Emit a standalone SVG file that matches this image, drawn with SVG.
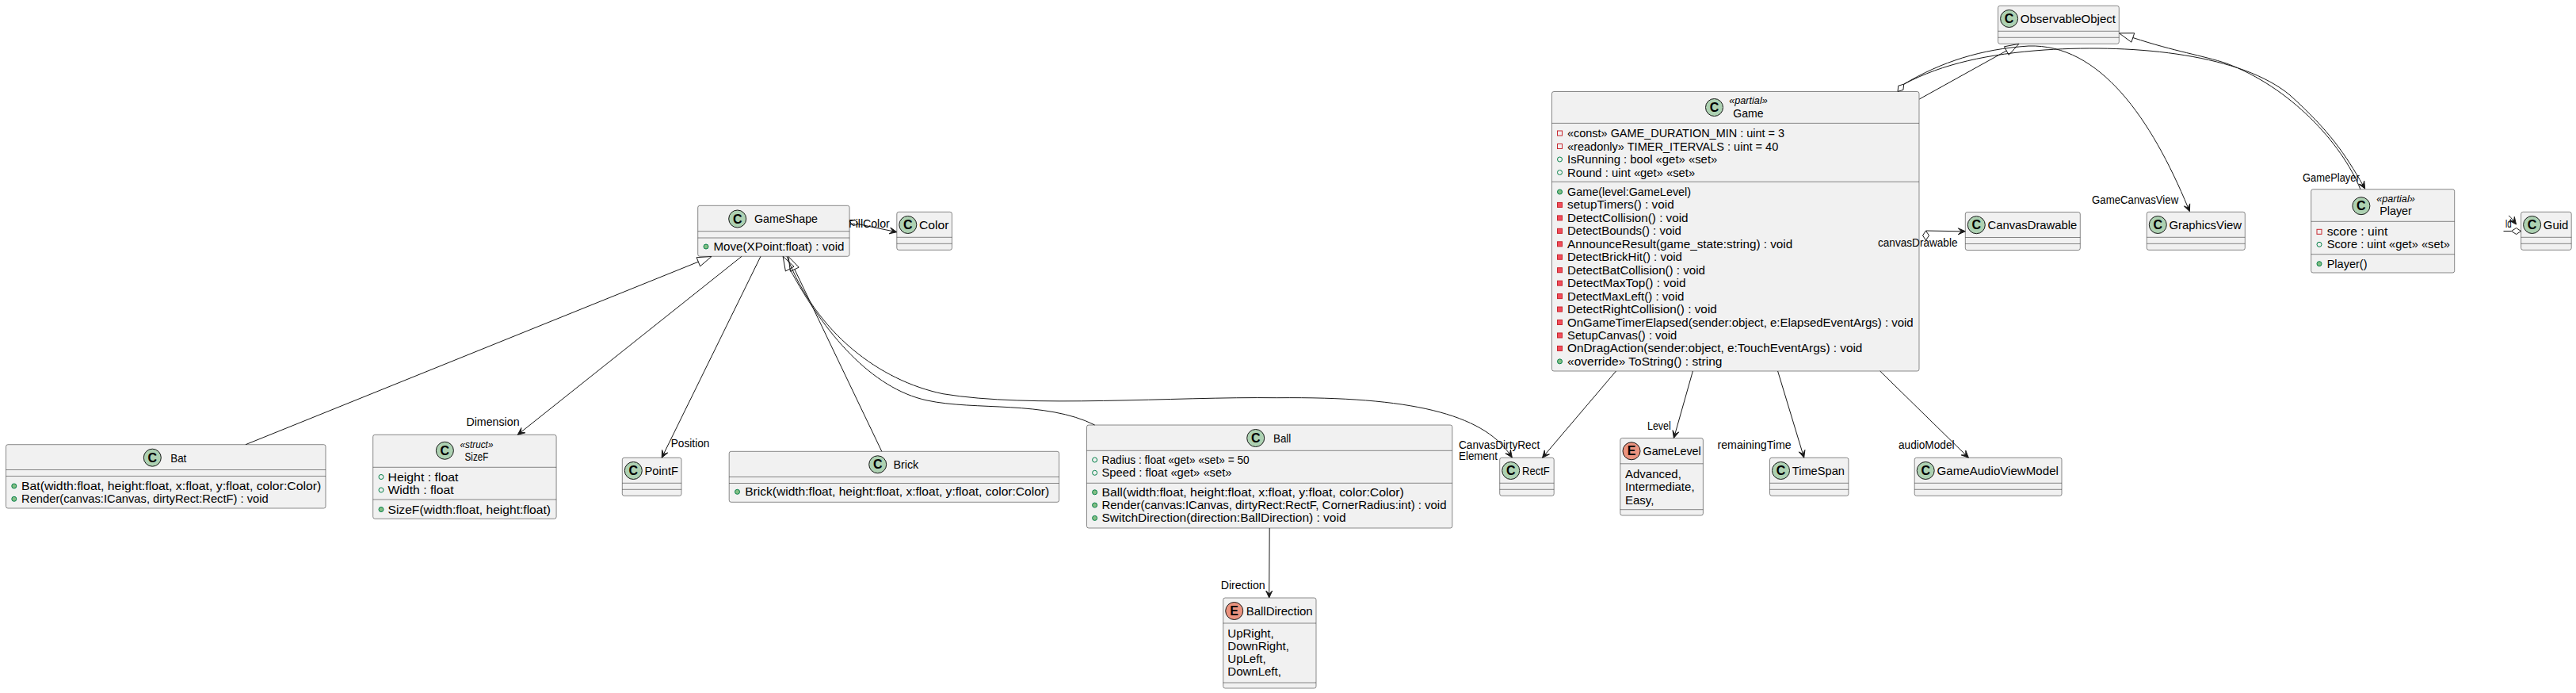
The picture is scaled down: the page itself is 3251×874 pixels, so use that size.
<svg xmlns="http://www.w3.org/2000/svg" width="3251" height="874" viewBox="0 0 3251 874">
<style>
.bg{fill:#FFFFFF}
.box{fill:#F1F1F1;stroke:#181818;stroke-width:0.5}
.dv{stroke:#181818;stroke-width:0.5}
.cc{fill:#ADD1B2;stroke:#181818;stroke-width:1}
.ce{fill:#EB937F;stroke:#181818;stroke-width:1}
.lt{font-family:"Liberation Sans",Arial,sans-serif;font-size:16px;font-weight:bold;text-anchor:middle;fill:#000}
text{font-family:"Liberation Sans",Arial,sans-serif;fill:#000}
.t{font-size:15px}
.nm{font-size:15px}
.st{font-size:13px;font-style:italic;text-anchor:middle}
.mid{text-anchor:middle}
.lb{font-size:14px}
.pf{fill:none;stroke:#C82930;stroke-width:1}
.pm{fill:#F24D5C;stroke:#C82930;stroke-width:1}
.uf{fill:none;stroke:#038048;stroke-width:1}
.um{fill:#84BE84;stroke:#038048;stroke-width:1}
.e{fill:none;stroke:#181818;stroke-width:1}
.ah{fill:#181818;stroke:#181818;stroke-width:1}
.tri{fill:none;stroke:#181818;stroke-width:1}
</style>
<rect class="bg" x="0" y="0" width="3251" height="874"/>

<g id="Game">
  <rect class="box" x="1958.5" y="115.5" width="463.5" height="352.5" rx="2.5"/>
  <circle class="cc" cx="2163.5" cy="135.5" r="11"/>
  <text class="lt" x="2163.5" y="141">C</text>
  <text class="st" x="2206.5" y="131" textLength="48.5" lengthAdjust="spacingAndGlyphs">«partial»</text>
  <text class="nm mid" x="2206.5" y="148" textLength="38.3" lengthAdjust="spacingAndGlyphs">Game</text>
  <line class="dv" x1="1958.5" y1="155.4" x2="2422" y2="155.4"/>
  <rect class="pf" x="1965.5" y="165" width="6" height="6"/>
  <text class="t" x="1978" y="173" textLength="274" lengthAdjust="spacingAndGlyphs">«const» GAME_DURATION_MIN : uint = 3</text>
  <rect class="pf" x="1965.5" y="181.5" width="6" height="6"/>
  <text class="t" x="1978" y="189.5" textLength="266.3" lengthAdjust="spacingAndGlyphs">«readonly» TIMER_ITERVALS : uint = 40</text>
  <circle class="uf" cx="1968.5" cy="201" r="3"/>
  <text class="t" x="1978" y="206" textLength="189.3" lengthAdjust="spacingAndGlyphs">IsRunning : bool «get» «set»</text>
  <circle class="uf" cx="1968.5" cy="217.5" r="3"/>
  <text class="t" x="1978" y="222.5" textLength="161.2" lengthAdjust="spacingAndGlyphs">Round : uint «get» «set»</text>
  <line class="dv" x1="1958.5" y1="229.3" x2="2422" y2="229.3"/>
  <circle class="um" cx="1968.5" cy="242" r="3"/>
  <text class="t" x="1978" y="247" textLength="156.1" lengthAdjust="spacingAndGlyphs">Game(level:GameLevel)</text>
  <rect class="pm" x="1965.5" y="255.45" width="6" height="6"/>
  <text class="t" x="1978" y="263.45" textLength="134.7" lengthAdjust="spacingAndGlyphs">setupTimers() : void</text>
  <rect class="pm" x="1965.5" y="271.9" width="6" height="6"/>
  <text class="t" x="1978" y="279.9" textLength="152.6" lengthAdjust="spacingAndGlyphs">DetectCollision() : void</text>
  <rect class="pm" x="1965.5" y="288.35" width="6" height="6"/>
  <text class="t" x="1978" y="296.35" textLength="143.9" lengthAdjust="spacingAndGlyphs">DetectBounds() : void</text>
  <rect class="pm" x="1965.5" y="304.8" width="6" height="6"/>
  <text class="t" x="1978" y="312.8" textLength="284.2" lengthAdjust="spacingAndGlyphs">AnnounceResult(game_state:string) : void</text>
  <rect class="pm" x="1965.5" y="321.25" width="6" height="6"/>
  <text class="t" x="1978" y="329.25" textLength="144.9" lengthAdjust="spacingAndGlyphs">DetectBrickHit() : void</text>
  <rect class="pm" x="1965.5" y="337.7" width="6" height="6"/>
  <text class="t" x="1978" y="345.7" textLength="174" lengthAdjust="spacingAndGlyphs">DetectBatCollision() : void</text>
  <rect class="pm" x="1965.5" y="354.15" width="6" height="6"/>
  <text class="t" x="1978" y="362.15" textLength="149.5" lengthAdjust="spacingAndGlyphs">DetectMaxTop() : void</text>
  <rect class="pm" x="1965.5" y="370.6" width="6" height="6"/>
  <text class="t" x="1978" y="378.6" textLength="147.4" lengthAdjust="spacingAndGlyphs">DetectMaxLeft() : void</text>
  <rect class="pm" x="1965.5" y="387.05" width="6" height="6"/>
  <text class="t" x="1978" y="395.05" textLength="188.8" lengthAdjust="spacingAndGlyphs">DetectRightCollision() : void</text>
  <rect class="pm" x="1965.5" y="403.5" width="6" height="6"/>
  <text class="t" x="1978" y="411.5" textLength="436.7" lengthAdjust="spacingAndGlyphs">OnGameTimerElapsed(sender:object, e:ElapsedEventArgs) : void</text>
  <rect class="pm" x="1965.5" y="419.95" width="6" height="6"/>
  <text class="t" x="1978" y="427.95" textLength="138.3" lengthAdjust="spacingAndGlyphs">SetupCanvas() : void</text>
  <rect class="pm" x="1965.5" y="436.4" width="6" height="6"/>
  <text class="t" x="1978" y="444.4" textLength="372.4" lengthAdjust="spacingAndGlyphs">OnDragAction(sender:object, e:TouchEventArgs) : void</text>
  <circle class="um" cx="1968.5" cy="455.85" r="3"/>
  <text class="t" x="1978" y="460.85" textLength="195.4" lengthAdjust="spacingAndGlyphs">«override» ToString() : string</text>
</g>

<g id="GameShape">
  <rect class="box" x="880.7" y="259.3" width="191.4" height="64" rx="2.5"/>
  <circle class="cc" cx="930.7" cy="276" r="11"/>
  <text class="lt" x="930.7" y="281.5">C</text>
  <text class="nm" x="952" y="281.3" textLength="80" lengthAdjust="spacingAndGlyphs">GameShape</text>
  <line class="dv" x1="880.7" y1="291.7" x2="1072.1" y2="291.7"/>
  <line class="dv" x1="880.7" y1="300" x2="1072.1" y2="300"/>
  <circle class="um" cx="891" cy="311" r="3"/>
  <text class="t" x="900.5" y="316" textLength="165" lengthAdjust="spacingAndGlyphs">Move(XPoint:float) : void</text>
</g>

<g id="Color">
  <rect class="box" x="1131.8" y="267.3" width="69.6" height="48" rx="2.5"/>
  <circle class="cc" cx="1145.8" cy="283.5" r="11"/>
  <text class="lt" x="1145.8" y="289">C</text>
  <text class="nm" x="1160" y="288.8" textLength="37.5" lengthAdjust="spacingAndGlyphs">Color</text>
  <line class="dv" x1="1131.8" y1="299.3" x2="1201.4" y2="299.3"/>
  <line class="dv" x1="1131.8" y1="307.3" x2="1201.4" y2="307.3"/>
</g>

<g id="Bat">
  <rect class="box" x="7.5" y="560.7" width="403.5" height="80.3" rx="2.5"/>
  <circle class="cc" cx="192.3" cy="577.2" r="11"/>
  <text class="lt" x="192.3" y="582.7">C</text>
  <text class="nm" x="215.3" y="582.5" textLength="20" lengthAdjust="spacingAndGlyphs">Bat</text>
  <line class="dv" x1="7.5" y1="592.5" x2="411" y2="592.5"/>
  <line class="dv" x1="7.5" y1="600.5" x2="411" y2="600.5"/>
  <circle class="um" cx="17.8" cy="613" r="3"/>
  <text class="t" x="27" y="618" textLength="378.3" lengthAdjust="spacingAndGlyphs">Bat(width:float, height:float, x:float, y:float, color:Color)</text>
  <circle class="um" cx="17.8" cy="629.3" r="3"/>
  <text class="t" x="27" y="634.3" textLength="311.7" lengthAdjust="spacingAndGlyphs">Render(canvas:ICanvas, dirtyRect:RectF) : void</text>
</g>

<g id="SizeF">
  <rect class="box" x="470.7" y="548.3" width="231.4" height="106" rx="2.5"/>
  <circle class="cc" cx="561.4" cy="568.3" r="11"/>
  <text class="lt" x="561.4" y="573.8">C</text>
  <text class="st" x="601.5" y="565" textLength="41.9" lengthAdjust="spacingAndGlyphs">«struct»</text>
  <text class="nm mid" x="601.5" y="580.5" textLength="29.9" lengthAdjust="spacingAndGlyphs">SizeF</text>
  <line class="dv" x1="470.7" y1="589.3" x2="702.1" y2="589.3"/>
  <circle class="uf" cx="481" cy="601.5" r="3"/>
  <text class="t" x="489.5" y="606.5" textLength="89" lengthAdjust="spacingAndGlyphs">Height : float</text>
  <circle class="uf" cx="481" cy="618" r="3"/>
  <text class="t" x="489.5" y="623" textLength="83.2" lengthAdjust="spacingAndGlyphs">Width : float</text>
  <line class="dv" x1="470.7" y1="630" x2="702.1" y2="630"/>
  <circle class="um" cx="481" cy="642.5" r="3"/>
  <text class="t" x="489.5" y="647.5" textLength="205.5" lengthAdjust="spacingAndGlyphs">SizeF(width:float, height:float)</text>
</g>

<g id="PointF">
  <rect class="box" x="785.3" y="577.3" width="74.7" height="48" rx="2.5"/>
  <circle class="cc" cx="799.3" cy="593.5" r="11"/>
  <text class="lt" x="799.3" y="599">C</text>
  <text class="nm" x="813.5" y="598.8" textLength="42.5" lengthAdjust="spacingAndGlyphs">PointF</text>
  <line class="dv" x1="785.3" y1="609.3" x2="860" y2="609.3"/>
  <line class="dv" x1="785.3" y1="617.3" x2="860" y2="617.3"/>
</g>

<g id="Brick">
  <rect class="box" x="920.2" y="569.3" width="416.4" height="64" rx="2.5"/>
  <circle class="cc" cx="1107.7" cy="585.8" r="11"/>
  <text class="lt" x="1107.7" y="591.3">C</text>
  <text class="nm" x="1127.4" y="591" textLength="31.9" lengthAdjust="spacingAndGlyphs">Brick</text>
  <line class="dv" x1="920.2" y1="601.5" x2="1336.6" y2="601.5"/>
  <line class="dv" x1="920.2" y1="609.5" x2="1336.6" y2="609.5"/>
  <circle class="um" cx="930.5" cy="620.3" r="3"/>
  <text class="t" x="940.2" y="625.3" textLength="384" lengthAdjust="spacingAndGlyphs">Brick(width:float, height:float, x:float, y:float, color:Color)</text>
</g>

<g id="Ball">
  <rect class="box" x="1371.5" y="536" width="461.3" height="130" rx="2.5"/>
  <circle class="cc" cx="1584.7" cy="552.5" r="11"/>
  <text class="lt" x="1584.7" y="558">C</text>
  <text class="nm" x="1607" y="558" textLength="22.3" lengthAdjust="spacingAndGlyphs">Ball</text>
  <line class="dv" x1="1371.5" y1="568.3" x2="1832.8" y2="568.3"/>
  <circle class="uf" cx="1381.6" cy="580" r="3"/>
  <text class="t" x="1390.5" y="585" textLength="186.2" lengthAdjust="spacingAndGlyphs">Radius : float «get» «set» = 50</text>
  <circle class="uf" cx="1381.6" cy="596.3" r="3"/>
  <text class="t" x="1390.5" y="601.3" textLength="164" lengthAdjust="spacingAndGlyphs">Speed : float «get» «set»</text>
  <line class="dv" x1="1371.5" y1="609.3" x2="1832.8" y2="609.3"/>
  <circle class="um" cx="1381.6" cy="620.8" r="3"/>
  <text class="t" x="1390.5" y="625.8" textLength="381.4" lengthAdjust="spacingAndGlyphs">Ball(width:float, height:float, x:float, y:float, color:Color)</text>
  <circle class="um" cx="1381.6" cy="637.1" r="3"/>
  <text class="t" x="1390.5" y="642.1" textLength="435" lengthAdjust="spacingAndGlyphs">Render(canvas:ICanvas, dirtyRect:RectF, CornerRadius:int) : void</text>
  <circle class="um" cx="1381.6" cy="653.4" r="3"/>
  <text class="t" x="1390.5" y="658.4" textLength="308" lengthAdjust="spacingAndGlyphs">SwitchDirection(direction:BallDirection) : void</text>
</g>

<g id="BallDirection">
  <rect class="box" x="1543.7" y="754" width="117.3" height="114" rx="2.5"/>
  <circle class="ce" cx="1557.7" cy="770.5" r="11"/>
  <text class="lt" x="1557.7" y="776">E</text>
  <text class="nm" x="1572.7" y="776" textLength="84" lengthAdjust="spacingAndGlyphs">BallDirection</text>
  <line class="dv" x1="1543.7" y1="786" x2="1661" y2="786"/>
  <text class="t" x="1549.3" y="803.5">UpRight,</text>
  <text class="t" x="1549.3" y="819.8">DownRight,</text>
  <text class="t" x="1549.3" y="836.1">UpLeft,</text>
  <text class="t" x="1549.3" y="852.4">DownLeft,</text>
  <line class="dv" x1="1543.7" y1="861" x2="1661" y2="861"/>
</g>

<g id="RectF">
  <rect class="box" x="1892.7" y="577.3" width="68.5" height="48" rx="2.5"/>
  <circle class="cc" cx="1906.7" cy="593.5" r="11"/>
  <text class="lt" x="1906.7" y="599">C</text>
  <text class="nm" x="1921" y="598.8" textLength="34.7" lengthAdjust="spacingAndGlyphs">RectF</text>
  <line class="dv" x1="1892.7" y1="609.3" x2="1961.2" y2="609.3"/>
  <line class="dv" x1="1892.7" y1="617.3" x2="1961.2" y2="617.3"/>
</g>

<g id="GameLevel">
  <rect class="box" x="2044.8" y="552.5" width="104.6" height="97.5" rx="2.5"/>
  <circle class="ce" cx="2059" cy="568.8" r="11"/>
  <text class="lt" x="2059" y="574.3">E</text>
  <text class="nm" x="2073.5" y="574" textLength="73.2" lengthAdjust="spacingAndGlyphs">GameLevel</text>
  <line class="dv" x1="2044.8" y1="584.8" x2="2149.4" y2="584.8"/>
  <text class="t" x="2051" y="602.5">Advanced,</text>
  <text class="t" x="2051" y="619">Intermediate,</text>
  <text class="t" x="2051" y="635.5">Easy,</text>
  <line class="dv" x1="2044.8" y1="642.7" x2="2149.4" y2="642.7"/>
</g>

<g id="TimeSpan">
  <rect class="box" x="2233.5" y="577.3" width="99.4" height="48" rx="2.5"/>
  <circle class="cc" cx="2247.5" cy="593.5" r="11"/>
  <text class="lt" x="2247.5" y="599">C</text>
  <text class="nm" x="2261.8" y="598.8" textLength="66.1" lengthAdjust="spacingAndGlyphs">TimeSpan</text>
  <line class="dv" x1="2233.5" y1="609.3" x2="2332.9" y2="609.3"/>
  <line class="dv" x1="2233.5" y1="617.3" x2="2332.9" y2="617.3"/>
</g>

<g id="GameAudioViewModel">
  <rect class="box" x="2416.2" y="577.3" width="185.8" height="48" rx="2.5"/>
  <circle class="cc" cx="2430.2" cy="593.5" r="11"/>
  <text class="lt" x="2430.2" y="599">C</text>
  <text class="nm" x="2444.5" y="598.8" textLength="153.4" lengthAdjust="spacingAndGlyphs">GameAudioViewModel</text>
  <line class="dv" x1="2416.2" y1="609.3" x2="2602" y2="609.3"/>
  <line class="dv" x1="2416.2" y1="617.3" x2="2602" y2="617.3"/>
</g>

<g id="CanvasDrawable">
  <rect class="box" x="2480.3" y="267.5" width="145" height="48" rx="2.5"/>
  <circle class="cc" cx="2494.3" cy="283.7" r="11"/>
  <text class="lt" x="2494.3" y="289.2">C</text>
  <text class="nm" x="2508.5" y="289" textLength="112.8" lengthAdjust="spacingAndGlyphs">CanvasDrawable</text>
  <line class="dv" x1="2480.3" y1="299.5" x2="2625.3" y2="299.5"/>
  <line class="dv" x1="2480.3" y1="307.5" x2="2625.3" y2="307.5"/>
</g>

<g id="GraphicsView">
  <rect class="box" x="2709.3" y="267.3" width="124" height="48" rx="2.5"/>
  <circle class="cc" cx="2723.3" cy="283.5" r="11"/>
  <text class="lt" x="2723.3" y="289">C</text>
  <text class="nm" x="2737.5" y="288.8" textLength="91.5" lengthAdjust="spacingAndGlyphs">GraphicsView</text>
  <line class="dv" x1="2709.3" y1="299.3" x2="2833.3" y2="299.3"/>
  <line class="dv" x1="2709.3" y1="307.3" x2="2833.3" y2="307.3"/>
</g>

<g id="ObservableObject">
  <rect class="box" x="2521.6" y="7.3" width="152.7" height="48" rx="2.5"/>
  <circle class="cc" cx="2535.6" cy="23.5" r="11"/>
  <text class="lt" x="2535.6" y="29">C</text>
  <text class="nm" x="2549.8" y="28.8" textLength="120.2" lengthAdjust="spacingAndGlyphs">ObservableObject</text>
  <line class="dv" x1="2521.6" y1="39.3" x2="2674.3" y2="39.3"/>
  <line class="dv" x1="2521.6" y1="47.3" x2="2674.3" y2="47.3"/>
</g>

<g id="Player">
  <rect class="box" x="2916.7" y="238.7" width="181" height="105.3" rx="2.5"/>
  <circle class="cc" cx="2979.9" cy="259.7" r="11"/>
  <text class="lt" x="2979.9" y="265.2">C</text>
  <text class="st" x="3023.5" y="254.5" textLength="48.5" lengthAdjust="spacingAndGlyphs">«partial»</text>
  <text class="nm mid" x="3023.5" y="271.2" textLength="40.7" lengthAdjust="spacingAndGlyphs">Player</text>
  <line class="dv" x1="2916.7" y1="279.3" x2="3097.7" y2="279.3"/>
  <rect class="pf" x="2924" y="289.3" width="6" height="6"/>
  <text class="t" x="2936.7" y="297.3" textLength="76.6" lengthAdjust="spacingAndGlyphs">score : uint</text>
  <circle class="uf" cx="2927" cy="308.3" r="3"/>
  <text class="t" x="2936.7" y="313.3" textLength="155.2" lengthAdjust="spacingAndGlyphs">Score : uint «get» «set»</text>
  <line class="dv" x1="2916.7" y1="320.7" x2="3097.7" y2="320.7"/>
  <circle class="um" cx="2927" cy="332.7" r="3"/>
  <text class="t" x="2936.7" y="337.7" textLength="50.8" lengthAdjust="spacingAndGlyphs">Player()</text>
</g>

<g id="Guid">
  <rect class="box" x="3181.6" y="267.3" width="63.6" height="48" rx="2.5"/>
  <circle class="cc" cx="3195.6" cy="283.5" r="11"/>
  <text class="lt" x="3195.6" y="289">C</text>
  <text class="nm" x="3209.8" y="288.8" textLength="31.6" lengthAdjust="spacingAndGlyphs">Guid</text>
  <line class="dv" x1="3181.6" y1="299.3" x2="3245.2" y2="299.3"/>
  <line class="dv" x1="3181.6" y1="307.3" x2="3245.2" y2="307.3"/>
</g>

<g id="connectors">
  <path class="e" d="M310,560.7 L881.3,330.2"/>
  <polygon class="tri" points="898,323.5 883.6,335.8 879.1,324.7"/>
  <path class="e" d="M1112.8,569.3 L1002.8,339.7"/>
  <polygon class="tri" points="995,323.5 1008.2,337.1 997.4,342.3"/>
  <path class="e" d="M1381.6,536 C1320,505 1230,518 1170,505 C1100,490 1040,420 996.7,339.1"/>
  <polygon class="tri" points="988.1,323.3 1002,336.2 991.4,342"/>
  <path class="e" d="M936.1,323.3 L657.2,545.2"/>
  <polygon class="ah" points="653.3,548.3 662.8,545.8 657.2,545.2 657.9,539.6"/>
  <text class="lb" x="588.4" y="537.3" textLength="67.2" lengthAdjust="spacingAndGlyphs">Dimension</text>
  <path class="e" d="M960,323.3 L837.4,572.8"/>
  <polygon class="ah" points="835.2,577.3 842.8,571 837.4,572.8 835.6,567.5"/>
  <text class="lb" x="846.7" y="564" textLength="48.8" lengthAdjust="spacingAndGlyphs">Position</text>
  <path class="e" d="M993,323.3 C1030,420 1110,480 1190,496.7 C1300,515 1480,500 1611.7,501.7 C1780,500 1870,522 1905.4,572.9"/>
  <polygon class="ah" points="1908.3,577 1899.9,571.9 1905.4,572.9 1906.4,567.3"/>
  <text class="lb" x="1841" y="566" textLength="102.3" lengthAdjust="spacingAndGlyphs">CanvasDirtyRect</text>
  <polygon class="tri" points="1072.1,279 1076.6,284.7 1083.5,282.7 1079,277.1"/>
  <path class="e" d="M1083.5,282.7 L1126.9,291.7"/>
  <polygon class="ah" points="1131.8,292.7 1122.2,294.8 1126.9,291.7 1123.8,287"/>
  <text class="lb" x="1071" y="287" textLength="51.8" lengthAdjust="spacingAndGlyphs">FillColor</text>
  <path class="e" d="M1602.2,666 L1601.7,749"/>
  <polygon class="ah" points="1601.7,754 1597.7,745 1601.7,749 1605.7,745"/>
  <text class="lb" x="1540.7" y="742.7" textLength="56" lengthAdjust="spacingAndGlyphs">Direction</text>
  <path class="e" d="M2039.5,468 L1949.7,573.5"/>
  <polygon class="ah" points="1946.5,577.3 1955.4,573 1949.7,573.5 1949.3,567.9"/>
  <text class="lb" x="1841" y="579.5" textLength="49" lengthAdjust="spacingAndGlyphs">Element</text>
  <path class="e" d="M2136.4,468 L2113.8,547.7"/>
  <polygon class="ah" points="2112.4,552.5 2118.7,544.9 2113.8,547.7 2111,542.7"/>
  <text class="lb" x="2079" y="541.5" textLength="29.8" lengthAdjust="spacingAndGlyphs">Level</text>
  <path class="e" d="M2243.6,468 L2275.3,572.5"/>
  <polygon class="ah" points="2276.7,577.3 2270.3,569.9 2275.3,572.5 2277.9,567.5"/>
  <text class="lb" x="2167.5" y="566" textLength="93.2" lengthAdjust="spacingAndGlyphs">remainingTime</text>
  <path class="e" d="M2372.7,468 L2480.8,573.8"/>
  <polygon class="ah" points="2484.4,577.3 2475.2,573.9 2480.8,573.8 2480.8,568.2"/>
  <text class="lb" x="2396" y="566" textLength="70.5" lengthAdjust="spacingAndGlyphs">audioModel</text>
  <polygon class="tri" points="2430.5,291 2434.5,297 2430.5,303 2426.5,297"/>
  <path class="e" d="M2430.5,291 L2475.3,291.8"/>
  <polygon class="ah" points="2480.3,291.8 2471.3,287.8 2475.3,291.8 2471.3,295.8"/>
  <text class="lb" x="2370" y="310.5" textLength="100.5" lengthAdjust="spacingAndGlyphs">canvasDrawable</text>
  <path class="e" d="M2422.3,125 L2532.3,64"/>
  <polygon class="tri" points="2548,55.3 2535.2,69.3 2529.4,58.8"/>
  <path class="e" d="M2978.9,238.7 C2955,180 2890,110 2810,80 C2780,70 2745,65 2691.8,47.5"/>
  <polygon class="tri" points="2674.6,41.9 2693.7,41.8 2689.9,53.2"/>
  <polygon class="tri" points="2395,115.4 2401.9,113.4 2402.7,106.2 2395.8,108.2"/>
  <path class="e" d="M2402.7,106.2 C2450,78 2500,62 2560,58 C2650,55 2715,150 2761.5,262.1"/>
  <polygon class="ah" points="2763.4,266.7 2756.3,259.9 2761.5,262.1 2763.7,256.9"/>
  <text class="lb" x="2640" y="257" textLength="109.2" lengthAdjust="spacingAndGlyphs">GameCanvasView</text>
  <path class="e" d="M2402.7,106.2 C2452,80 2510,68 2580,63 C2700,55 2830,70 2890,120 C2940,165 2960,195 2982.2,233.7"/>
  <polygon class="ah" points="2984.7,238 2976.8,232.2 2982.2,233.7 2983.7,228.2"/>
  <text class="lb" x="2906" y="229" textLength="71.8" lengthAdjust="spacingAndGlyphs">GamePlayer</text>
  <polygon class="tri" points="3181.6,291.5 3175.6,287.5 3169.6,291.5 3175.6,295.5"/>
  <path class="e" d="M3169.6,291.5 L3159.5,291.5 M3166,272 C3168,273 3170,276 3172.5,279"/>
  <polygon class="ah" points="3175.5,283 3166.9,278.2 3172.5,279 3173.3,273.4"/>
  <text class="lb" x="3161.7" y="287" textLength="8" lengthAdjust="spacingAndGlyphs">Id</text>
</g>
</svg>
